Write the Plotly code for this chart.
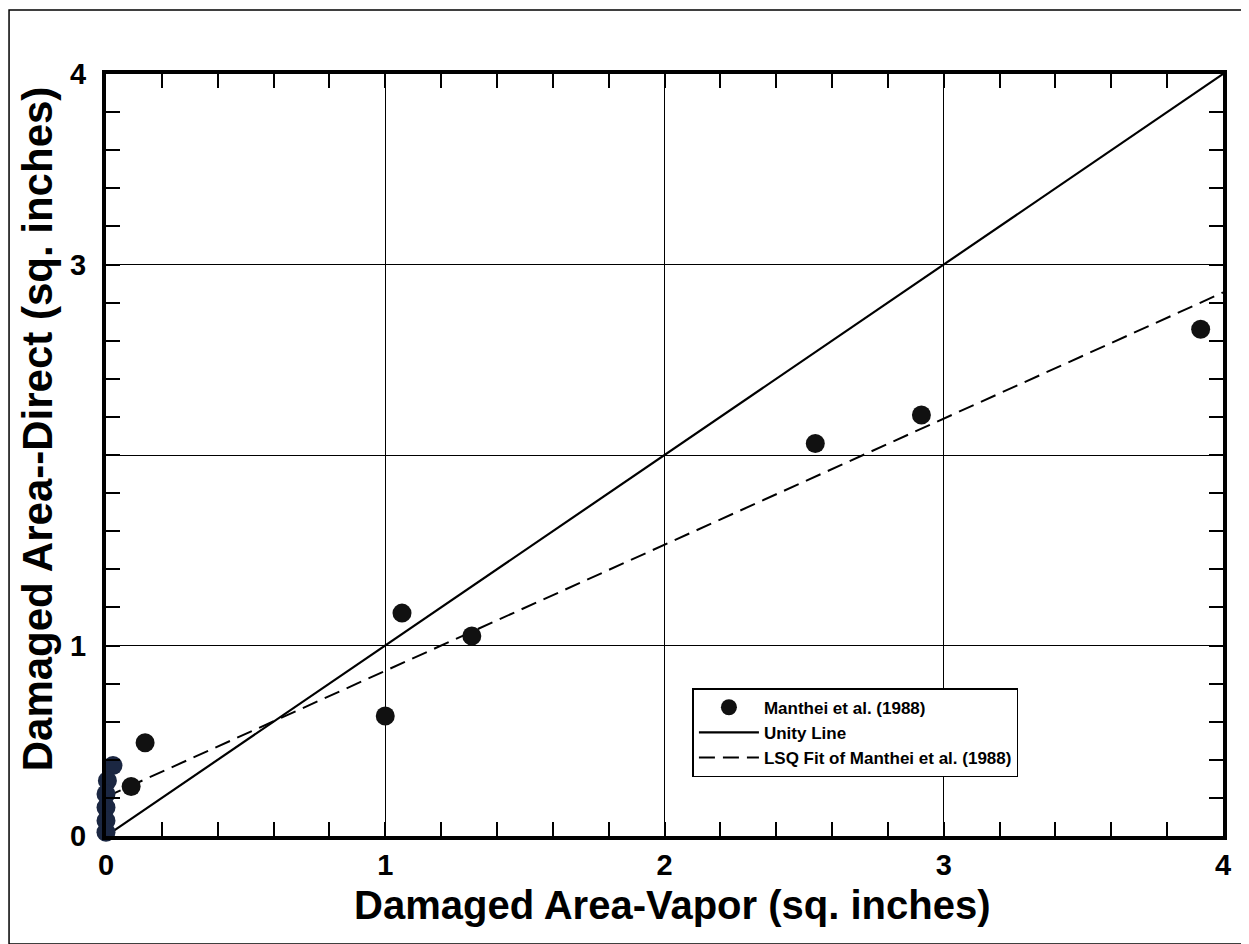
import plotly.graph_objects as go

# Data
manthei_x = [1.06, 1.31, 1.00, 2.54, 2.92, 3.92, 0.14, 0.09, 0.025, 0.005, 0.0, 0.0, 0.0, 0.0]
manthei_y = [1.17, 1.05, 0.63, 2.06, 2.21, 2.66, 0.49, 0.26, 0.37, 0.29, 0.22, 0.15, 0.08, 0.02]
manthei_color = ["#111111"] * 8 + ["#1b2742"] * 6

unity_x = [0, 4]
unity_y = [0, 4]

lsq_x = [0, 4]
lsq_y = [0.205, 2.853]

tick_vals = [0, 1, 2, 3, 4]
x_tick_text = ["0", "1", "2", "3", "4"]
y_tick_text = ["0", "1", "", "3", "4"]

x_title = "Damaged Area-Vapor (sq. inches)"
y_title = "Damaged Area--Direct (sq. inches)"

FONT = "Liberation Sans, Arial, sans-serif"

fig = go.Figure()
fig.add_trace(go.Scatter(
    x=unity_x, y=unity_y, mode="lines", name="Unity Line", legendrank=2,
    line=dict(color="black", width=2.2), cliponaxis=False))
fig.add_trace(go.Scatter(
    x=lsq_x, y=lsq_y, mode="lines", name="LSQ Fit of Manthei et al. (1988)", legendrank=3,
    line=dict(color="black", width=2, dash="16px,8px"), cliponaxis=False))
fig.add_trace(go.Scatter(
    x=manthei_x, y=manthei_y, mode="markers", name="Manthei et al. (1988)", legendrank=1,
    marker=dict(color=manthei_color, size=19, line=dict(width=0)), cliponaxis=False))

axis_common = dict(
    range=[0, 4], tickvals=tick_vals, showgrid=True, gridcolor="black", gridwidth=1.3,
    zeroline=False, showline=True, linecolor="black", linewidth=4, mirror="allticks",
    ticks="inside", ticklen=14, tickwidth=1.5, tickcolor="black",
    minor=dict(dtick=0.2, ticks="inside", ticklen=14, tickwidth=1.5, tickcolor="black", showgrid=False),
    tickfont=dict(family=FONT, size=29, color="black", weight="bold"),
    fixedrange=True,
)

fig.update_xaxes(**axis_common, ticktext=x_tick_text)
fig.update_yaxes(**axis_common, ticktext=y_tick_text, ticklabelstandoff=10)

fig.update_layout(
    width=1241, height=936,
    margin=dict(l=98, r=26, t=66, b=108),
    paper_bgcolor="white", plot_bgcolor="white",
    showlegend=True,
    legend=dict(
        x=0.525, y=0.194, xanchor="left", yanchor="top",
        bgcolor="white", bordercolor="black", borderwidth=1.5,
        font=dict(family=FONT, size=17, color="black", weight="bold"),
        itemwidth=60, tracegroupgap=4,
    ),
    shapes=[dict(type="rect", xref="paper", yref="paper",
                 x0=-0.0868, x1=1.0206, y0=-0.1417, y1=1.084,
                 line=dict(color="black", width=1.5), layer="below")],
    annotations=[
        dict(text="<b>" + x_title + "</b>", xref="paper", yref="paper",
             x=0.507, y=-0.0906, xanchor="center", yanchor="middle", showarrow=False,
             font=dict(family=FONT, size=40, color="black")),
        dict(text="<b>" + y_title + "</b>", xref="paper", yref="paper",
             x=-0.0618, y=0.535, xanchor="center", yanchor="middle", showarrow=False,
             textangle=-90, font=dict(family=FONT, size=42, color="black")),
    ],
)

fig.write_html("out.html")
